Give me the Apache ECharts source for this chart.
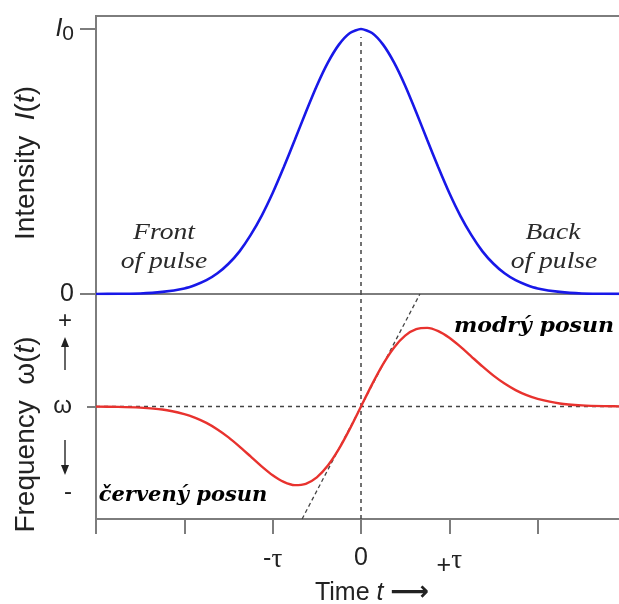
<!DOCTYPE html>
<html><head><meta charset="utf-8">
<script src="https://cdn.jsdelivr.net/npm/echarts@6/dist/echarts.min.js"></script>
<style>html,body{margin:0;padding:0;background:#fff}#c{width:619px;height:604px}</style>
</head><body><div id="c"></div>
<script>
// ---- data ----
const timeValues = [-3,-2.75,-2.5,-2.25,-2,-1.875,-1.75,-1.625,-1.5,-1.375,-1.25,-1.125,-1,-0.875,-0.75,-0.625,-0.5,-0.375,-0.25,-0.125,0,0.125,0.25,0.375,0.5,0.625,0.75,0.875,1,1.125,1.25,1.375,1.5,1.625,1.75,1.875,2,2.25,2.5,2.75,3];
const intensityValues = [0.000,0.001,0.002,0.008,0.021,0.034,0.052,0.078,0.114,0.161,0.222,0.295,0.381,0.478,0.581,0.686,0.786,0.873,0.941,0.985,1.000,0.985,0.941,0.873,0.786,0.686,0.581,0.478,0.381,0.295,0.222,0.161,0.114,0.078,0.052,0.034,0.021,0.008,0.002,0.001,0.000];
const frequencyValues = [-0.001,-0.003,-0.010,-0.027,-0.068,-0.101,-0.146,-0.204,-0.274,-0.356,-0.444,-0.532,-0.611,-0.670,-0.699,-0.687,-0.630,-0.525,-0.377,-0.197,0,0.197,0.377,0.525,0.630,0.687,0.699,0.670,0.611,0.532,0.444,0.356,0.274,0.204,0.146,0.101,0.068,0.027,0.010,0.003,0.001];
const tangentTimes = [-0.667, 0.667];
const tangentFreqs = [-1, 1];
const xLabelValues = [-1, 0, 1];
const xLabelTexts = ['-τ', '0', '+τ'];
const yTopLabelValues = [0, 1];
const yTopLabelTexts = ['0', 'I0'];
const yBottomLabelValues = [0.76, 0, -0.76];
const yBottomLabelTexts = ['+', 'ω', '-'];

const GRAY = '#7d7d7d', DASH = '#444', TXT = '#222';
const SANS = '"Liberation Sans", Arial, sans-serif';
const SERIF = '"Liberation Serif", "Times New Roman", serif';

function pairs(xs, ys){ return xs.map((x,i)=>[x, ys[i]]); }

const xRich = {
  n:{fontFamily:SANS,fontSize:25,color:TXT},
  tau:{fontFamily:SERIF,fontSize:27,color:TXT},
  tauUp:{fontFamily:SERIF,fontSize:27,color:TXT,padding:[0,0,4,0]},
  plus:{fontFamily:SANS,fontSize:25,color:TXT,padding:[8,0,0,0]}
};
function xFmt(v){
  const t = xLabelTexts[xLabelValues.indexOf(v)];
  if (t === undefined) return '';
  if (t === '-τ') return '{n|-}{tau|τ}';
  if (t === '+τ') return '{plus|+}{tauUp|τ}';
  return '{n|' + t + '}';
}
function yTopFmt(v){
  const t = yTopLabelTexts[yTopLabelValues.indexOf(v)];
  if (t === 'I0') return '{i|I}{s|0}';
  return '{n|' + t + '}';
}
function yBotFmt(v){
  let i = -1;
  yBottomLabelValues.forEach((y,k)=>{ if (Math.abs(y - v) < 1e-9) i = k; });
  return i < 0 ? '' : '{n|' + yBottomLabelTexts[i] + '}';
}

const chart = echarts.init(document.getElementById('c'), null, {renderer:'canvas'});
chart.setOption({
  animation:false,
  backgroundColor:'#fff',
  grid:[
    {left:96, top:16, width:530, height:278, show:true, borderColor:GRAY, borderWidth:2, backgroundColor:'transparent', outerBoundsMode:'none', containLabel:false},
    {left:96, top:294, width:530, height:225, outerBoundsMode:'none', containLabel:false}
  ],
  xAxis:[
    {gridIndex:0, type:'value', min:-3, max:3, interval:1, axisLine:{show:false}, axisTick:{show:false}, axisLabel:{show:false}, splitLine:{show:false}},
    {gridIndex:1, type:'value', min:-3, max:3, interval:1,
     axisLine:{onZero:false, lineStyle:{color:GRAY,width:2}},
     axisTick:{length:15, lineStyle:{color:GRAY,width:2}},
     axisLabel:{customValues:xLabelValues, formatter:xFmt, margin:27, rich:xRich},
     splitLine:{show:false},
     name:'Time {it|t} {ar|⟶}', nameLocation:'middle', nameGap:59,
     nameTextStyle:{fontFamily:SANS, fontSize:25, color:TXT, padding:[0,0,0,22],
       rich:{it:{fontFamily:SANS,fontSize:25,fontStyle:'italic',color:TXT}, ar:{fontFamily:'"DejaVu Sans", sans-serif',fontSize:27,fontWeight:'bold',color:TXT}}}
    }
  ],
  yAxis:[
    {gridIndex:0, type:'value', min:0, max:1.049,
     axisLine:{onZero:false, lineStyle:{color:GRAY,width:2}},
     axisTick:{customValues:yTopLabelValues, length:16, lineStyle:{color:GRAY,width:2}},
     axisLabel:{customValues:yTopLabelValues, formatter:yTopFmt, margin:22,
       rich:{n:{fontFamily:SANS,fontSize:25,color:TXT}, i:{fontFamily:SANS,fontSize:25,fontStyle:'italic',color:TXT}, s:{fontFamily:SANS,fontSize:21,color:TXT,padding:[10,0,0,0]}}},
     splitLine:{show:false},
     name:'Intensity  {it|I}({it|t})', nameLocation:'middle', nameGap:56, nameRotate:90,
     nameTextStyle:{fontFamily:SANS, fontSize:28, color:TXT, padding:[0,16,0,0], rich:{it:{fontFamily:SANS,fontSize:28,fontStyle:'italic',color:TXT}}}
    },
    {gridIndex:1, type:'value', min:-1, max:1,
     axisLine:{onZero:false, lineStyle:{color:GRAY,width:2}},
     axisTick:{customValues:[0], length:9, lineStyle:{color:GRAY,width:2}},
     axisLabel:{customValues:yBottomLabelValues, formatter:yBotFmt, margin:24,
       rich:{n:{fontFamily:SANS,fontSize:24,color:TXT}}},
     splitLine:{show:false},
     name:'Frequency  ω({it|t})', nameLocation:'middle', nameGap:56, nameRotate:90,
     nameTextStyle:{fontFamily:SANS, fontSize:28, color:TXT, padding:[0,56,0,0], rich:{it:{fontFamily:SANS,fontSize:28,fontStyle:'italic',color:TXT}}}
    }
  ],
  series:[
    {type:'line', xAxisIndex:0, yAxisIndex:0, data:[[0,0],[0,0.97]], symbol:'none', silent:true,
     lineStyle:{color:DASH,width:1.5,type:[4,4]}},
    {type:'line', xAxisIndex:1, yAxisIndex:1, data:[[0,-1],[0,1]], symbol:'none', silent:true,
     lineStyle:{color:DASH,width:1.5,type:[4,4]}},
    {type:'line', xAxisIndex:1, yAxisIndex:1, data:[[-3,0],[3,0]], symbol:'none', silent:true,
     lineStyle:{color:DASH,width:1.5,type:[4,4]}},
    {type:'line', xAxisIndex:1, yAxisIndex:1, data:pairs(tangentTimes, tangentFreqs), symbol:'none', silent:true,
     lineStyle:{color:DASH,width:1.3,type:[4,3]}},
    {type:'line', xAxisIndex:0, yAxisIndex:0, data:pairs(timeValues, intensityValues), symbol:'none', smooth:0.2,
     lineStyle:{color:'#1818e8',width:2.6}},
    {type:'line', xAxisIndex:1, yAxisIndex:1, data:pairs(timeValues, frequencyValues), symbol:'none', smooth:0.2,
     lineStyle:{color:'#e8322e',width:2.4}}
  ],
  graphic:[
    {type:'text', x:164, y:233, scaleX:1.2, style:{text:'Front', font:'italic 23px '+SERIF, fill:'#2a2a2a', align:'center', verticalAlign:'middle'}},
    {type:'text', x:164, y:262, scaleX:1.2, style:{text:'of pulse', font:'italic 23px '+SERIF, fill:'#2a2a2a', align:'center', verticalAlign:'middle'}},
    {type:'text', x:553, y:233, scaleX:1.2, style:{text:'Back', font:'italic 23px '+SERIF, fill:'#2a2a2a', align:'center', verticalAlign:'middle'}},
    {type:'text', x:554, y:262, scaleX:1.2, style:{text:'of pulse', font:'italic 23px '+SERIF, fill:'#2a2a2a', align:'center', verticalAlign:'middle'}},
    {type:'text', x:534, y:327, scaleX:1.05, style:{text:'modrý posun', font:'italic bold 21px "DejaVu Serif", serif', fill:'#000', align:'center', verticalAlign:'middle'}},
    {type:'text', x:183, y:496, style:{text:'červený posun', font:'italic bold 21px "DejaVu Serif", serif', fill:'#000', align:'center', verticalAlign:'middle'}},
    {type:'line', shape:{x1:65,y1:345,x2:65,y2:370}, style:{stroke:'#333',lineWidth:1.5}},
    {type:'polygon', shape:{points:[[61,347],[69,347],[65,337]]}, style:{fill:'#222'}},
    {type:'line', shape:{x1:65,y1:440,x2:65,y2:466}, style:{stroke:'#333',lineWidth:1.5}},
    {type:'polygon', shape:{points:[[61,465],[69,465],[65,475]]}, style:{fill:'#222'}}
  ]
});
</script></body></html>
